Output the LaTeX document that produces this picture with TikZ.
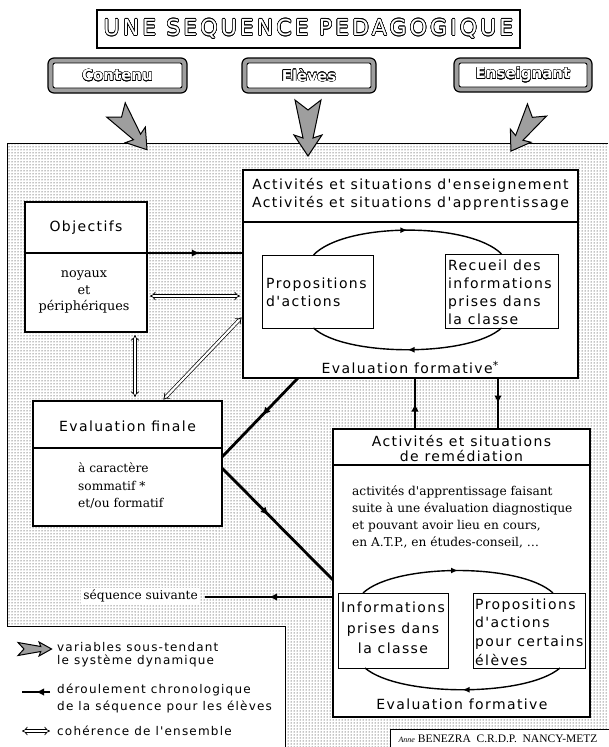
\documentclass[tikz,border=0pt]{standalone}
\usepackage{fontspec}
\usepackage{contour}
\usetikzlibrary{patterns,decorations.markings,arrows.meta,calc}
\newfontfamily\lab[LetterSpace=10]{DejaVu Sans}
\newfontfamily\ttl[LetterSpace=14]{DejaVu Sans}
\newfontfamily\topf{DejaVu Sans}
\newfontfamily\serifb{DejaVu Serif}
\newfontfamily\cred{Liberation Serif}
\tikzset{
  box/.style={draw, line width=1.1pt, fill=white, inner sep=0pt, outer sep=0pt, anchor=north west},
  inbox/.style={draw, line width=0.8pt, fill=white, inner sep=0pt, outer sep=0pt, anchor=north west},
  lbl/.style={inner sep=0pt, font=\lab\fontsize{14}{18}\selectfont},
  lgd/.style={inner sep=0pt, anchor=west, align=left, font=\lab\fontsize{12}{13}\selectfont},
  bodytxt/.style={inner sep=0pt, font=\serifb\fontsize{12.2}{17}\selectfont},
  flowline/.style={line width=2.8pt, postaction={decorate},
    decoration={markings, mark=at position #1 with {\arrow{Latex[length=8pt,width=7.5pt]}}}},
  flowline/.default=0.5,
  arcline/.style={line width=1.4pt, postaction={decorate},
    decoration={markings, mark=at position 0.5 with {\arrow{Latex[length=7pt,width=6pt]}}}},
  coh/.style={double distance=2.2pt, line width=0.7pt, {Implies}-{Implies}},
  topouter/.style={draw, line width=1.2pt, rounded corners=6pt, fill=black!38, inner sep=0pt},
  topinner/.style={draw, line width=0.9pt, rounded corners=2pt, fill=white, inner sep=0pt,
    font=\topf\bfseries\fontsize{15}{18}\selectfont},
  bigarrow/.pic={\filldraw[fill=black!38, draw=black, line width=1pt, line join=miter]
    (0,13) -- (10,0) -- (0,-13) -- (38,-5) -- (35,-14) -- (56,0) -- (35,14) -- (38,5) -- cycle;}
}
\begin{document}
\begin{tikzpicture}[x=1pt,y=-1pt]
\fill[white] (0,0) rectangle (608,747);
\useasboundingbox (0,0) rectangle (608,747);

% dotted field
\fill[pattern=dots, pattern color=black] (7,143) -- (608,143) -- (608,747) -- (285,747) -- (285,626) -- (7,626) -- cycle;
\draw[line width=0.8pt] (608,143) -- (7,143) -- (7,626) -- (285,626) -- (285,747);

% title
\node[draw, line width=1.3pt, fill=white, minimum width=423pt, minimum height=38pt, inner sep=0pt] (title) at (308.5,29)
  {\contourlength{0.6pt}\ttl\fontsize{22}{24}\selectfont\textcolor{white}{\contour{black}{UNE SEQUENCE PEDAGOGIQUE}}};

% top boxes
\node[topouter, minimum width=139pt, minimum height=35pt] (contenuo) at (117.5,75.5) {};
\node[topinner, minimum width=129pt, minimum height=25pt] (contenu) at (117.5,75.5)
  {\contourlength{0.4pt}\textcolor{white}{\contour{black}{Contenu}}};
\node[topouter, minimum width=134pt, minimum height=35pt] (elevso) at (309,75.5) {};
\node[topinner, minimum width=124pt, minimum height=25pt] (elevs) at (309,75.5)
  {\contourlength{0.4pt}\textcolor{white}{\contour{black}{Elèves}}};
\node[topouter, minimum width=138pt, minimum height=34pt] (enso) at (523,75) {};
\node[topinner, minimum width=128pt, minimum height=24pt] (ens) at (523,75)
  {\contourlength{0.4pt}\textcolor{white}{\contour{black}{Enseignant}}};

% big arrows
\pic[rotate=-52, scale=0.9] at (116,110) {bigarrow};
\pic[rotate=-90] at (308,100) {bigarrow};
\pic[rotate=-122.4, scale=0.87] at (537,110) {bigarrow};

% main box
\node[box, minimum width=335pt, minimum height=52pt] (mainh) at (243,170) {};
\node[box, minimum width=335pt, minimum height=156pt] (mainb) at (243,222) {};
\node[lbl, align=center] (maint) at (410.5,194) {Activités et situations d'enseignement\\Activités et situations d'apprentissage};
\node[inbox, minimum width=111pt, minimum height=73pt] (propA) at (262,255) {};
\node[lbl, anchor=west, align=left] (propAt) at (266,292) {Propositions\\d'actions};
\node[inbox, minimum width=113pt, minimum height=74pt] (recA) at (445,254) {};
\node[lbl, anchor=west, align=left] (recAt) at (448,292) {Recueil des\\informations\\prises dans\\la classe};
\draw[arcline] ($(propA.north)+(-4,0)$) .. controls (345,222) and (470,222) .. ($(recA.north)+(0,0)$);
\draw[arcline] ($(recA.south)+(0,0)$) .. controls (470,357) and (345,357) .. ($(propA.south)+(-4,0)$);
\node[lbl] (evfA) at (410,368) {Evaluation formative\raisebox{4pt}{\fontsize{11}{11}\selectfont*}};

% objectifs
\node[box, minimum width=122pt, minimum height=51pt] (objh) at (25,202) {};
\node[lbl] (objt) at (objh.center) {Objectifs};
\node[box, minimum width=122pt, minimum height=79pt] (objb) at (25,253) {};
\node[bodytxt, align=center, font=\serifb\fontsize{12.8}{16.5}\selectfont] (objbt) at (84,292) {noyaux\\et\\périphériques};

% evaluation finale
\node[box, minimum width=189pt, minimum height=47pt] (finh) at (33,401) {};
\node[lbl] (fint) at (127.5,426) {Evaluation finale};
\node[box, minimum width=189pt, minimum height=78pt] (finb) at (33,448) {};
\node[bodytxt, anchor=west, align=left, font=\serifb\fontsize{12.2}{17.5}\selectfont] (finbt) at (78,486) {à caractère\\sommatif *\\et/ou formatif};

% remediation
\node[box, minimum width=257pt, minimum height=36pt] (remh) at (333,429) {};
\node[lbl, align=center, font=\lab\fontsize{14}{15.5}\selectfont] (remt) at (461.5,448.5) {Activités et situations\\de remédiation};
\node[box, minimum width=257pt, minimum height=252pt] (remb) at (333,465) {};
\node[bodytxt, anchor=west, align=left] (rembt) at (352,516.5) {activités d'apprentissage faisant\\suite à une évaluation diagnostique\\et pouvant avoir lieu en cours,\\en A.T.P., en études-conseil, \dots};
\node[inbox, minimum width=110pt, minimum height=75pt] (infB) at (338,593) {};
\node[lbl, align=center, font=\lab\fontsize{14}{20.5}\selectfont] (infBt) at (393,628) {Informations\\prises dans\\la classe};
\node[inbox, minimum width=112pt, minimum height=75pt] (propB) at (473,593) {};
\node[lbl, anchor=west, align=left, font=\lab\fontsize{14}{18.7}\selectfont] (propBt) at (475,632) {Propositions\\d'actions\\pour certains\\élèves};
\draw[arcline] ($(infB.north west)+(25,0)$) .. controls (395,563) and (521,563) .. ($(propB.north east)+(-32,0)$);
\draw[arcline] ($(propB.south east)+(-25,0)$) .. controls (526,697) and (399,697) .. ($(infB.south west)+(27,0)$);
\node[lbl] (evfB) at (462,704) {Evaluation formative};

% credit
\node[draw, line width=0.8pt, fill=white, anchor=north west, minimum width=220pt, minimum height=20pt, inner sep=0pt] (credit) at (390,729) {};
\node[inner sep=0pt, font=\cred\fontsize{11.5}{13}\selectfont] (creditt) at (498,738.5) {{\itshape\fontsize{8}{9}\selectfont Anne} BENEZRA\ \ C.R.D.P.\ \ NANCY-METZ};

% chronological flow
\draw[flowline=0.55] (objh.south east) -- (objh.south east -| mainb.west);
\draw[flowline=0.47] (mainb.south -| 298,0) -- (finb.east |- 0,457);
\draw[flowline=0.42] (finb.east |- 0,468) -- (remb.west |- 0,580);
\coordinate (seqend) at (205,597);
\draw[flowline=0.5] (remb.west |- 0,597) -- (seqend);
\node[bodytxt, anchor=east, fill=white, inner sep=2pt] (seq) at (200,596) {séquence suivante};
\draw[flowline=0.5] (remh.north -| 415,0) -- (mainb.south -| 415,0);
\draw[flowline=0.5] (mainb.south -| 498,0) -- (remh.north -| 498,0);

% coherence
\draw[coh, shorten <=3pt, shorten >=3pt] (objb.east |- 0,296) -- (mainb.west |- 0,296);
\draw[coh, shorten <=2pt, shorten >=2pt] (mainb.west |- 0,316) -- (finh.north -| 162,0);
\draw[coh, shorten <=3pt, shorten >=4pt] (objb.south -| 135,0) -- (finh.north -| 135,0);

% legend
\pic[xscale=0.6, yscale=0.5] at (18,649) {bigarrow};
\node[lgd] (lg1) at (57,654.5) {variables sous-tendant\\le système dynamique};
\coordinate (lg2a) at (50,692);
\coordinate (lg2b) at (22,692);
\draw[flowline=0.5] (lg2a) -- (lg2b);
\node[lgd, font=\lab\fontsize{12}{17}\selectfont] (lg2) at (57,698.5) {déroulement chronologique\\de la séquence pour les élèves};
\coordinate (lg3a) at (22,731);
\coordinate (lg3b) at (50,731);
\draw[coh] (lg3a) -- (lg3b);
\node[lgd] (lg3) at (57,731) {cohérence de l'ensemble};
\end{tikzpicture}
\end{document}
